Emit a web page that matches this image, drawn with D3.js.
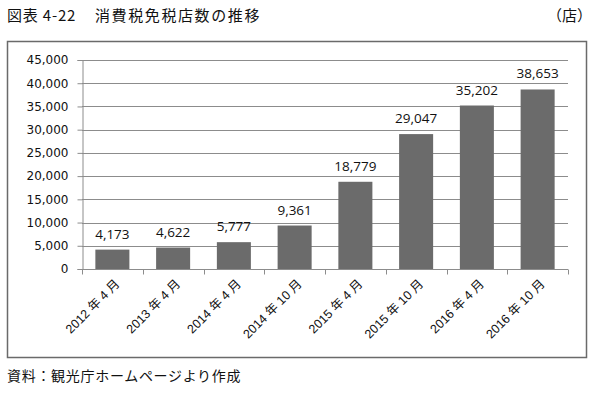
<!DOCTYPE html>
<html>
<head>
<meta charset="utf-8">
<script src="https://cdn.jsdelivr.net/npm/d3@7"></script>
<style>
  body { margin: 0; background: #fff; }
  svg { display: block; }
</style>
</head>
<body>
<svg id="chart" width="600" height="396"></svg>
<script>
var categories = ["2012 年 4 月", "2013 年 4 月", "2014 年 4 月", "2014 年 10 月",
                  "2015 年 4 月", "2015 年 10 月", "2016 年 4 月", "2016 年 10 月"];
var stores = [4173, 4622, 5777, 9361, 18779, 29047, 35202, 38653];
var yTicks = [0, 5000, 10000, 15000, 20000, 25000, 30000, 35000, 40000, 45000];

var svg = d3.select("#chart");
var fmt = d3.format(",");

// title and unit
svg.append("text")
  .attr("x", 7).attr("y", 21)
  .style("font", "15px 'Noto Sans CJK JP'")
  .style("letter-spacing", "0.8px")
  .attr("fill", "#111")
  .text("図表 4-22");
svg.append("text")
  .attr("x", 95).attr("y", 21)
  .style("font", "15px 'Noto Sans CJK JP'")
  .style("letter-spacing", "1.6px")
  .attr("fill", "#111")
  .text("消費税免税店数の推移");
svg.append("text")
  .attr("x", 592).attr("y", 21)
  .attr("text-anchor", "end")
  .style("font", "15px 'Noto Sans CJK JP'")
  .attr("fill", "#111")
  .text("（店）");

// frame
svg.append("rect")
  .attr("x", 7.5).attr("y", 41.5)
  .attr("width", 579).attr("height", 316)
  .attr("fill", "none")
  .attr("stroke", "#6a6a6a")
  .attr("stroke-width", 1.5);

var x = d3.scaleBand().domain(categories).range([82, 568])
  .paddingInner(0.44).paddingOuter(0.22);
var y = d3.scaleLinear().domain([0, 45000]).range([269, 60]);

// grid lines
svg.append("g").selectAll("line")
  .data(yTicks.slice(1))
  .enter().append("line")
    .attr("x1", 82).attr("x2", 568)
    .attr("y1", function (d) { return Math.round(y(d)) + 0.5; })
    .attr("y2", function (d) { return Math.round(y(d)) + 0.5; })
    .attr("stroke", "#8c8c8c");

// y axis
var gy = svg.append("g")
  .attr("transform", "translate(82.5,0)")
  .call(d3.axisLeft(y).tickValues(yTicks).tickSize(5).tickPadding(9).tickFormat(fmt));
gy.selectAll("path, line").attr("stroke", "#8c8c8c");
gy.selectAll("text")
  .style("font", "12px 'DejaVu Sans'")
  .attr("fill", "#111");

// bars
svg.append("g").selectAll("rect")
  .data(stores)
  .enter().append("rect")
    .attr("x", function (d, i) { return x(categories[i]); })
    .attr("y", function (d) { return y(d); })
    .attr("width", x.bandwidth())
    .attr("height", function (d) { return y(0) - y(d); })
    .attr("fill", "#6b6b6b");

// value labels
svg.append("g").selectAll("text")
  .data(stores)
  .enter().append("text")
    .attr("x", function (d, i) { return x(categories[i]) + x.bandwidth() / 2; })
    .attr("y", function (d) { return y(d) - 11; })
    .attr("text-anchor", "middle")
    .style("font", "13.5px 'Open Sans'")
    .attr("fill", "#111")
    .text(function (d) { return fmt(d); });

// x axis
var gx = svg.append("g")
  .attr("transform", "translate(0,269.5)");
gx.append("line")
  .attr("x1", 82).attr("x2", 568)
  .attr("stroke", "#8c8c8c");
gx.selectAll("line.tick")
  .data(d3.range(categories.length + 1))
  .enter().append("line")
    .attr("class", "tick")
    .attr("x1", function (i) { return Math.round(82 + i * x.step()) + 0.5; })
    .attr("x2", function (i) { return Math.round(82 + i * x.step()) + 0.5; })
    .attr("y1", 0).attr("y2", 5)
    .attr("stroke", "#8c8c8c");
gx.selectAll("text")
  .data(categories)
  .enter().append("text")
    .attr("transform", function (d) {
      return "translate(" + (x(d) + x.bandwidth() / 2 + 5) + ",12) rotate(-45)";
    })
    .attr("text-anchor", "end")
    .attr("dy", "0.35em")
    .style("font", "12.5px 'Liberation Sans', 'Noto Sans CJK JP'")
    .attr("fill", "#111")
    .text(function (d) { return d; });

// source note
svg.append("text")
  .attr("x", 7).attr("y", 381)
  .style("font", "14px 'Noto Sans CJK JP'")
  .style("letter-spacing", "0.7px")
  .attr("fill", "#111")
  .text("資料：観光庁ホームページより作成");
</script>
</body>
</html>
